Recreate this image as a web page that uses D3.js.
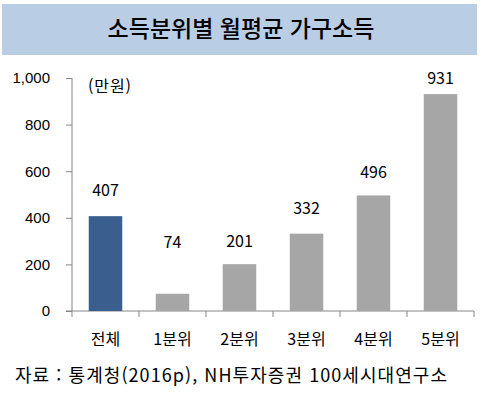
<!DOCTYPE html>
<html lang="ko">
<head>
<meta charset="UTF-8">
<title>소득분위별 월평균 가구소득</title>
<script src="https://d3js.org/d3.v7.min.js"></script>
<style>
  body { margin: 0; background: #fff; }
  svg { display: block; font-family: "Noto Sans CJK KR", "Noto Sans", sans-serif; }
</style>
</head>
<body>
<div id="chart"></div>
<script>
// data
const categories = ["전체", "1분위", "2분위", "3분위", "4분위", "5분위"];
const incomes = [407, 74, 201, 332, 496, 931];
const yTicks = [0, 200, 400, 600, 800, 1000];
// how far each value label sits above its bar (labels were placed by hand)
const labelLift = [26, 51, 23, 25, 23, 16];

const width = 481, height = 394;
const svg = d3.select("#chart").append("svg")
    .attr("width", width)
    .attr("height", height);

// title band
svg.append("rect")
    .attr("x", 2).attr("y", 4)
    .attr("width", 475).attr("height", 51)
    .attr("fill", "#b9cde5");
svg.append("text")
    .attr("x", 241).attr("y", 29)
    .attr("dy", "0.35em")
    .attr("text-anchor", "middle")
    .style("font-size", "23px")
    .style("font-weight", 500)
    .attr("fill", "#000")
    .text("소득분위별  월평균  가구소득");

const x = d3.scaleBand()
    .domain(categories)
    .range([72, 474])
    .paddingInner(0.5)
    .paddingOuter(0.25);

const y = d3.scaleLinear()
    .domain([0, 1000])
    .range([311, 78]);

// y axis
const yAxis = svg.append("g")
    .attr("transform", "translate(72,0)")
    .call(d3.axisLeft(y).tickValues(yTicks).tickSize(6).tickPadding(16).tickFormat(d3.format(",")));
yAxis.select(".domain").attr("stroke", "#868686").attr("d", "M0,78V311");
yAxis.selectAll(".tick line").attr("stroke", "#868686");
yAxis.selectAll(".tick text")
    .style("font-size", "15px")
    .attr("fill", "#000");

// x axis line and boundary ticks
svg.append("line")
    .attr("x1", 66).attr("x2", 474)
    .attr("y1", 311).attr("y2", 311)
    .attr("stroke", "#868686");
const step = x.step();
svg.append("g").selectAll("line")
    .data(d3.range(categories.length + 1))
    .join("line")
    .attr("x1", i => 72 + i * step).attr("x2", i => 72 + i * step)
    .attr("y1", 311).attr("y2", 317)
    .attr("stroke", "#868686");

// bars
svg.append("g").selectAll("rect")
    .data(incomes)
    .join("rect")
    .attr("x", (d, i) => x(categories[i]))
    .attr("width", x.bandwidth())
    .attr("y", d => y(d))
    .attr("height", d => y(0) - y(d))
    .attr("fill", (d, i) => i === 0 ? "#3a5f8f" : "#a6a6a6");

// value labels
svg.append("g").selectAll("text")
    .data(incomes)
    .join("text")
    .attr("x", (d, i) => x(categories[i]) + x.bandwidth() / 2)
    .attr("y", (d, i) => y(d) - labelLift[i])
    .attr("dy", "0.35em")
    .attr("text-anchor", "middle")
    .style("font-size", "16px")
    .text(d => d);

// category labels
svg.append("g").selectAll("text")
    .data(categories)
    .join("text")
    .attr("x", d => x(d) + x.bandwidth() / 2)
    .attr("y", 339)
    .attr("dy", "0.35em")
    .attr("text-anchor", "middle")
    .style("font-size", "16px")
    .text(d => d);

// unit
svg.append("text")
    .attr("x", 88).attr("y", 86)
    .attr("dy", "0.35em")
    .style("font-size", "16px")
    .attr("textLength", 43)
    .text("(만원)");

// source
svg.append("text")
    .attr("x", 15).attr("y", 376)
    .attr("dy", "0.35em")
    .style("font-size", "18px")
    .attr("textLength", 432)
    .attr("lengthAdjust", "spacing")
    .text("자료 : 통계청(2016p), NH투자증권  100세시대연구소");
</script>
</body>
</html>
